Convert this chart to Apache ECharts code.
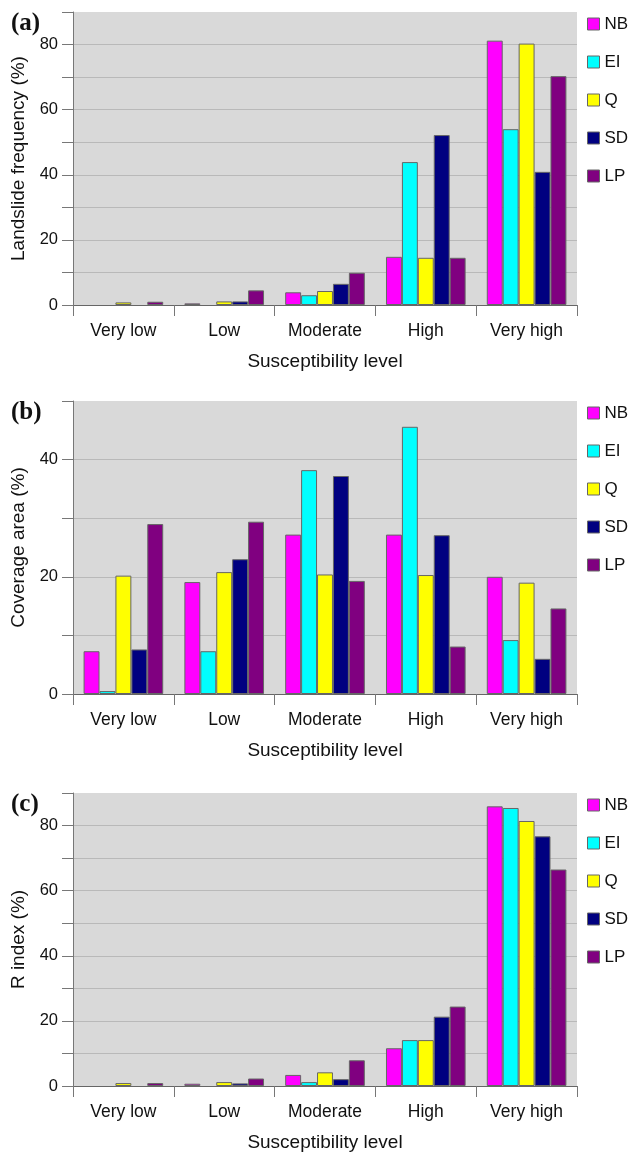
<!DOCTYPE html>
<html>
<head>
<meta charset="utf-8">
<script src="https://cdn.jsdelivr.net/npm/echarts@6/dist/echarts.min.js"></script>
<style>
html,body{margin:0;padding:0;background:#fff;}
#chart{width:632px;height:1154px;}
</style>
</head>
<body>
<div id="chart"></div>
<script>
const categories = ['Very low', 'Low', 'Moderate', 'High', 'Very high'];
const models = ['NB', 'EI', 'Q', 'SD', 'LP'];
const colors = ['#ff00ff', '#00ffff', '#ffff00', '#000080', '#800080'];

// (a) Landslide frequency (%)
const freqNB = [0, 0.5, 3.9, 14.8, 81.2];
const freqEI = [0, 0, 3.0, 43.9, 54.0];
const freqQ  = [0.8, 1.1, 4.3, 14.5, 80.3];
const freqSD = [0, 1.1, 6.5, 52.2, 40.9];
const freqLP = [1.0, 4.5, 9.9, 14.5, 70.3];

// (b) Coverage area (%)
const areaNB = [7.3, 19.1, 27.2, 27.2, 20.0];
const areaEI = [0.5, 7.3, 38.2, 45.6, 9.2];
const areaQ  = [20.2, 20.8, 20.4, 20.3, 19.0];
const areaSD = [7.6, 23.0, 37.2, 27.1, 6.0];
const areaLP = [29.0, 29.4, 19.3, 8.1, 14.6];

// (c) R index (%)
const rNB = [0, 0.7, 3.4, 11.6, 85.9];
const rEI = [0, 0, 1.2, 14.1, 85.4];
const rQ  = [0.9, 1.2, 4.2, 14.1, 81.4];
const rSD = [0, 0.8, 2.1, 21.3, 76.7];
const rLP = [0.9, 2.3, 7.9, 24.4, 66.5];

const panels = [
  { label: '(a)', yName: 'Landslide frequency (%)', max: 90, data: [freqNB, freqEI, freqQ, freqSD, freqLP] },
  { label: '(b)', yName: 'Coverage area (%)', max: 50, data: [areaNB, areaEI, areaQ, areaSD, areaLP] },
  { label: '(c)', yName: 'R index (%)', max: 90, data: [rNB, rEI, rQ, rSD, rLP] }
];

const tops = [12, 401, 793];
const H = 293;
const font = 'Liberation Sans, Arial, sans-serif';
const bg = '#d9d9d9';

const grid = [], xAxis = [], yAxis = [], series = [], legend = [], graphic = [];
panels.forEach((p, i) => {
  grid.push({ left: 73, top: tops[i], width: 504, height: H, show: true, backgroundColor: bg, borderWidth: 0, containLabel: false });
  xAxis.push({
    type: 'category', gridIndex: i, data: categories,
    name: 'Susceptibility level', nameLocation: 'middle', nameGap: 47,
    nameTextStyle: { fontFamily: font, fontSize: 19, color: '#111' },
    axisLine: { lineStyle: { color: '#666', width: 1 } },
    axisTick: { show: true, length: 11, lineStyle: { color: '#777' } },
    axisLabel: { fontFamily: font, fontSize: 17.5, color: '#111', margin: 17 },
    splitLine: { show: false }
  });
  const nLines = p.max / 10 + 1;
  const lineColors = [];
  for (let k = 0; k < nLines; k++) lineColors.push(k === nLines - 1 ? bg : '#b9b9b9');
  yAxis.push({
    type: 'value', gridIndex: i, min: 0, max: p.max, interval: 10,
    name: p.yName, nameLocation: 'middle', nameGap: 43, nameRotate: 90,
    nameTextStyle: { fontFamily: font, fontSize: 19, color: '#111' },
    axisLine: { show: true, lineStyle: { color: '#777', width: 1 } },
    axisTick: { show: true, length: 11, lineStyle: { color: '#777' } },
    axisLabel: { fontFamily: font, fontSize: 16.5, color: '#111', margin: 15,
      formatter: v => (v % 20 === 0 ? String(v) : '') },
    splitLine: { show: true, lineStyle: { color: lineColors, width: 1 } }
  });
  models.forEach((m, j) => {
    series.push({
      type: 'bar', name: m, xAxisIndex: i, yAxisIndex: i,
      data: p.data[j].map(v => (v === 0 ? '-' : v)),
      barGap: '0%', barCategoryGap: '21%',
      itemStyle: { color: colors[j], borderColor: '#666', borderWidth: 1 },
      emphasis: { disabled: true }
    });
  });
  legend.push({
    orient: 'vertical', left: 582, top: tops[i] - 2, data: models,
    icon: 'rect', itemWidth: 12, itemHeight: 12, itemGap: 20,
    itemStyle: { borderColor: '#666', borderWidth: 1 },
    textStyle: { fontFamily: font, fontSize: 17, color: '#111', lineHeight: 18 },
    selectedMode: false
  });
  graphic.push({
    type: 'text', left: 11, top: tops[i] - 1,
    style: { text: p.label, font: 'bold 25px "Liberation Serif", "Times New Roman", serif', fill: '#111' }
  });
});

const chart = echarts.init(document.getElementById('chart'), null, { renderer: 'canvas' });
chart.setOption({
  animation: false,
  backgroundColor: '#fff',
  grid, xAxis, yAxis, series, legend, graphic
});
</script>
</body>
</html>
